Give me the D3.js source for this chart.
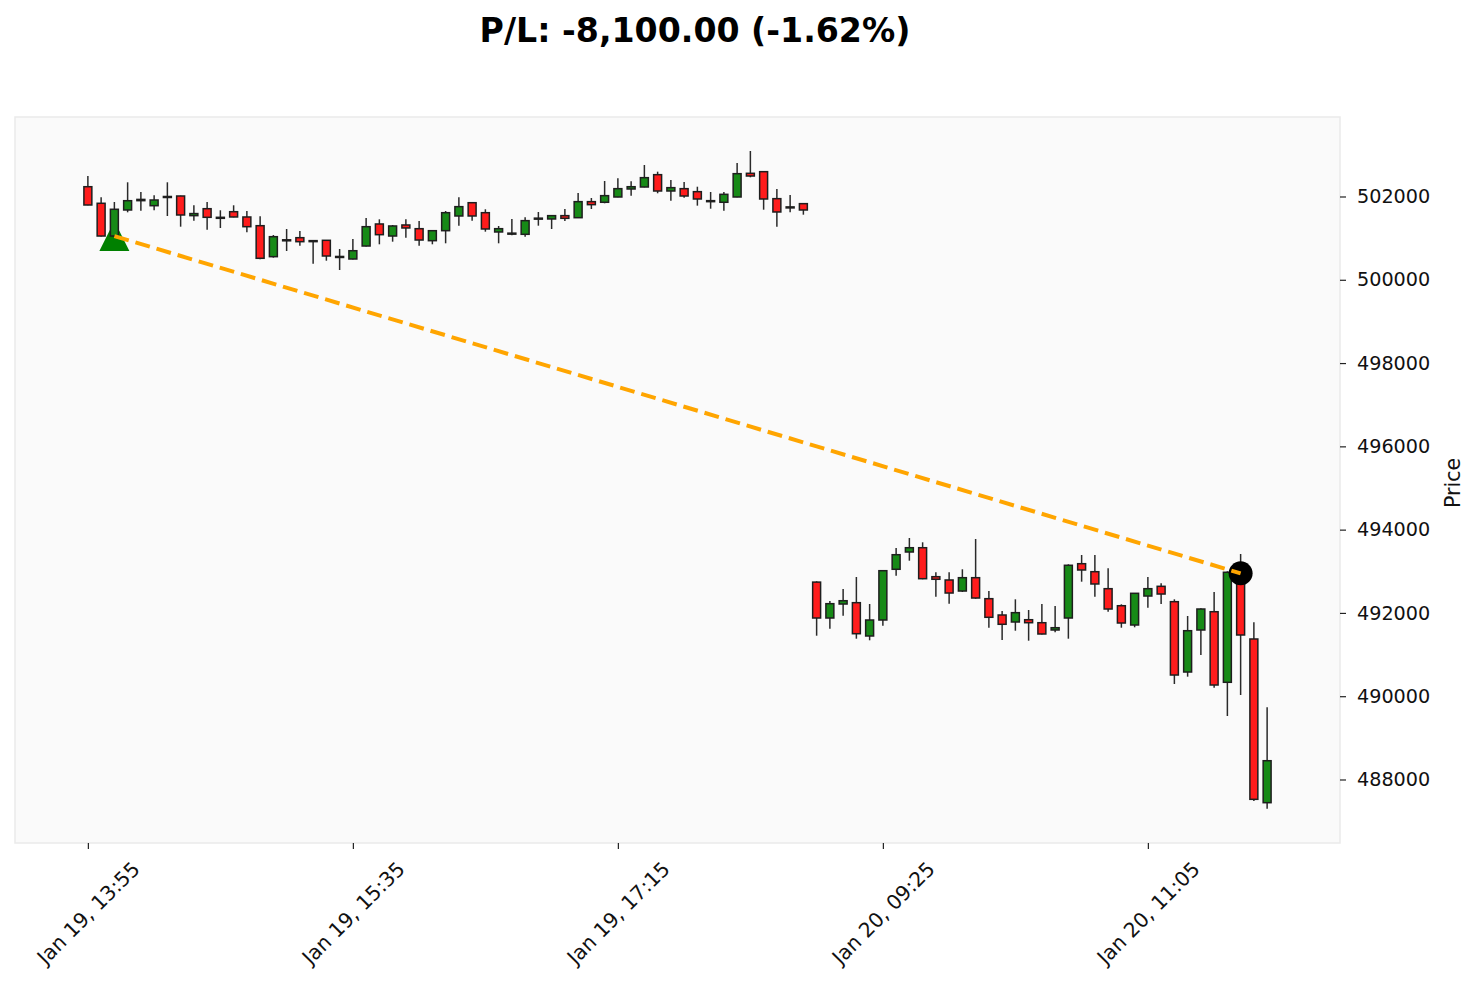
<!DOCTYPE html>
<html>
<head>
<meta charset="utf-8">
<script src="https://cdn.jsdelivr.net/npm/d3@7"></script>
<style>
  html, body { margin: 0; padding: 0; background: #ffffff; }
  svg { display: block; font-family: "DejaVu Sans", sans-serif; }
</style>
</head>
<body>
<svg id="chart" width="1477" height="984"></svg>
<script>
// ---------- data ----------
const openP = [
  502235, 501837, 501051, 501676, 501900, 501779, 502000, 502012, 501540, 501707,
  501500, 501635, 501508, 501299, 500555, 500960, 501011, 500940, 500948, 500540,
  500499, 500811, 501340, 501051, 501316, 501227, 500939, 501179, 501532, 501851,
  501611, 501148, 501110, 501092, 501470, 501460, 501540, 501491, 501876, 501861,
  501988, 502180, 502228, 502524, 502132, 502188, 502116, 501900, 501861, 501988,
  502557, 502596, 501948, 501740, 501828,
  492740, 491878, 492214, 492246, 491446, 491830, 493048, 493463, 493566, 492870,
  492791, 492526, 492846, 492342, 491950, 491782, 491837, 491765, 491590, 491878,
  493182, 492990, 492582, 492173, 491710, 492406, 492639, 492270, 490581, 491590,
  492029, 490334, 492950, 491374, 487443
];
const highP = [
  502492, 501981, 501868, 502341, 502108, 502028, 502341, 502020, 501789, 501868,
  501669, 501789, 501652, 501524, 501075, 501220, 501172, 500948, 500955, 500739,
  500979, 501484, 501452, 501316, 501452, 501412, 501196, 501652, 501981, 501861,
  501693, 501292, 501460, 501500, 501628, 501556, 501700, 502084, 501964, 502372,
  502437, 502365, 502757, 502596, 502396, 502348, 502235, 502108, 502108, 502805,
  503093, 502605, 502180, 502036, 501837,
  492760, 492286, 492574, 492863, 492214, 493020, 493559, 493799, 493696, 492976,
  492976, 493048, 493775, 492526, 492046, 492327, 492070, 492214, 492166, 493168,
  493391, 493391, 493072, 492207, 492478, 492863, 492711, 492327, 491926, 492111,
  492502, 493000, 493415, 491775, 489734
];
const lowP = [
  501790, 501040, 501030, 501620, 501659, 501669, 501532, 501275, 501419, 501203,
  501243, 501500, 501140, 500492, 500531, 500691, 500819, 500386, 500458, 500235,
  500490, 500800, 500852, 500915, 501011, 500819, 500852, 500876, 501299, 501419,
  501155, 500876, 501068, 501035, 501299, 501220, 501412, 501490, 501700, 501837,
  501980, 502020, 502220, 502077, 501900, 501972, 501780, 501707, 501659, 501980,
  502461, 501683, 501275, 501620, 501563,
  491453, 491621, 491933, 491381, 491343, 491693, 492894, 493254, 492808, 492390,
  492222, 492502, 492340, 491645, 491350, 491573, 491333, 491480, 491535, 491381,
  492750, 492390, 492029, 491645, 491655, 492125, 492214, 490293, 490469, 490990,
  490204, 489525, 490029, 487484, 487299
];
const closeP = [
  501796, 501051, 501693, 501899, 501930, 501916, 501990, 501556, 501590, 501500,
  501480, 501508, 501275, 500516, 501035, 500950, 500915, 500930, 500571, 500560,
  500698, 501275, 501083, 501292, 501244, 500955, 501179, 501611, 501756, 501532,
  501220, 501227, 501120, 501420, 501480, 501540, 501476, 501876, 501804, 502020,
  502188, 502235, 502452, 502132, 502212, 502012, 501940, 501885, 502052, 502548,
  502492, 501940, 501628, 501750, 501676,
  491878, 492222, 492293, 491501, 491830, 493014, 493398, 493566, 492822, 492808,
  492478, 492846, 492358, 491895, 491727, 492006, 491765, 491494, 491645, 493144,
  493031, 492695, 492094, 491758, 492471, 492582, 492454, 490509, 491573, 492094,
  490269, 492976, 491470, 487524, 488451
];
const tickIndex = [0, 20, 40, 60, 80];
const tickLabels = ["Jan 19, 13:55", "Jan 19, 15:35", "Jan 19, 17:15", "Jan 20, 09:25", "Jan 20, 11:05"];
const yTicks = [488000, 490000, 492000, 494000, 496000, 498000, 500000, 502000];
const entryIndex = 2, entryPrice = 501050;
const exitIndex = 87, exitPrice = 492950;
const titleText = "P/L: -8,100.00 (-1.62%)";
const yLabel = "Price";

// ---------- layout ----------
const svg = d3.select("#chart");
const plot = { left: 15, right: 1340, top: 117, bottom: 843 };
const x = d3.scaleLinear().domain([-5.5, 94.5]).range([plot.left, plot.right]);
const y = d3.scaleLinear().domain([486475, 503909]).range([plot.bottom, plot.top]);
const step = x(1) - x(0);
const bodyW = step * 0.6;

const candles = openP.map((o, i) => ({ i, o, h: highP[i], l: lowP[i], c: closeP[i] }));

// axes background
svg.append("rect")
  .attr("x", plot.left).attr("y", plot.top)
  .attr("width", plot.right - plot.left).attr("height", plot.bottom - plot.top)
  .attr("fill", "#fafafa").attr("stroke", "#eaeaea").attr("stroke-width", 1.5);

// title
svg.append("text")
  .attr("x", 695).attr("y", 42)
  .attr("text-anchor", "middle")
  .attr("font-size", 33.2).attr("font-weight", "bold").attr("fill", "#000")
  .text(titleText);

// y axis (right)
const yAxis = d3.axisRight(y).tickValues(yTicks).tickSize(6).tickPadding(11).tickFormat(d3.format("d"));
const gy = svg.append("g").attr("transform", `translate(${plot.right},0)`).call(yAxis);
gy.select(".domain").remove();
gy.selectAll(".tick line").attr("stroke", "#222").attr("stroke-width", 1.2);
gy.selectAll(".tick text").attr("font-size", 19.2).attr("fill", "#111")
  .attr("font-family", "DejaVu Sans, sans-serif");

svg.append("text")
  .attr("transform", `translate(1460,${(plot.top + plot.bottom) / 2 + 3}) rotate(-90)`)
  .attr("text-anchor", "middle")
  .attr("font-size", 20.5).attr("fill", "#111")
  .text(yLabel);

// x axis (bottom)
const xAxis = d3.axisBottom(x).tickValues(tickIndex).tickSize(6).tickFormat((d, k) => tickLabels[k]);
const gx = svg.append("g").attr("transform", `translate(0,${plot.bottom})`).call(xAxis);
gx.select(".domain").remove();
gx.selectAll(".tick line").attr("stroke", "#222").attr("stroke-width", 1.2);
gx.selectAll(".tick text")
  .attr("font-size", 20.3).attr("fill", "#111")
  .attr("font-family", "DejaVu Sans, sans-serif")
  .attr("text-anchor", "middle")
  .attr("dy", null).attr("y", null)
  .attr("dominant-baseline", "central")
  .attr("transform", "translate(0,70) rotate(-45)");

// entry marker (behind candles)
const ex = x(entryIndex), ey = y(entryPrice);
svg.append("path")
  .attr("d", `M${ex},${ey - 15} L${ex - 15},${ey + 15} L${ex + 15},${ey + 15} Z`)
  .attr("fill", "#008000");

// candles
const g = svg.append("g");
g.selectAll("line.wick").data(candles).join("line")
  .attr("class", "wick")
  .attr("x1", d => x(d.i)).attr("x2", d => x(d.i))
  .attr("y1", d => y(d.h)).attr("y2", d => y(d.l))
  .attr("stroke", "#2a2a2a").attr("stroke-width", 1.5);
g.selectAll("rect.body").data(candles).join("rect")
  .attr("class", "body")
  .attr("x", d => x(d.i) - bodyW / 2)
  .attr("width", bodyW)
  .attr("y", d => y(Math.max(d.o, d.c)))
  .attr("height", d => Math.max(1, Math.abs(y(d.o) - y(d.c))))
  .attr("fill", d => d.c >= d.o ? "#178a17" : "#ff1c1c")
  .attr("stroke", "#1e1e1e").attr("stroke-width", 1.5);

// exit marker
const xx = x(exitIndex), xy = y(exitPrice);
svg.append("circle").attr("cx", xx).attr("cy", xy).attr("r", 12).attr("fill", "#000");

// trade line
svg.append("line")
  .attr("x1", ex).attr("y1", ey).attr("x2", xx).attr("y2", xy)
  .attr("stroke", "#ffa500").attr("stroke-width", 4)
  .attr("stroke-dasharray", "15,7");
</script>
</body>
</html>
